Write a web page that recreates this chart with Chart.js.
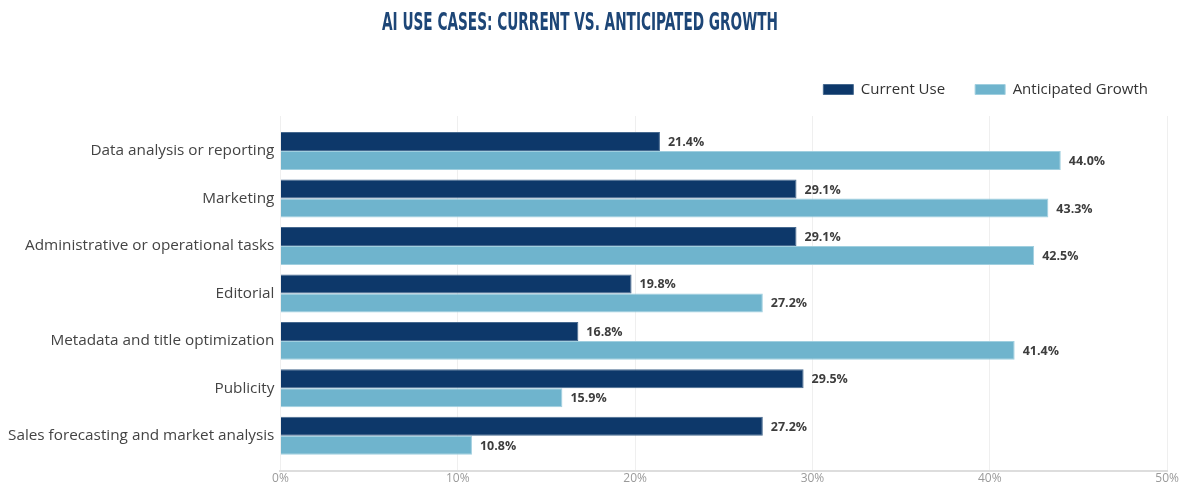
<!DOCTYPE html>
<html>
<head>
<meta charset="utf-8">
<script src="https://cdn.jsdelivr.net/npm/chart.js@4"></script>
<style>
  html, body { margin: 0; padding: 0; background: #fff; }
  #wrap { width: 1180px; height: 486px; position: relative; }
</style>
</head>
<body>
<div id="wrap"><canvas id="aiChart"></canvas></div>
<script>
// chart data
var categories = [
  'Data analysis or reporting',
  'Marketing',
  'Administrative or operational tasks',
  'Editorial',
  'Metadata and title optimization',
  'Publicity',
  'Sales forecasting and market analysis'
];
var currentUse = [21.4, 29.1, 29.1, 19.8, 16.8, 29.5, 27.2];
var anticipatedGrowth = [44.0, 43.3, 42.5, 27.2, 41.4, 15.9, 10.8];
var tickValues = [0, 10, 20, 30, 40, 50];
var chartTitle = 'AI USE CASES: CURRENT VS. ANTICIPATED GROWTH';

// title (condensed), value labels and a bit of extra room around the bars
var extras = {
  id: 'extras',
  beforeLayout: function(chart) {
    var lg = chart.legend;
    if (lg && !lg._extraPad) {
      var fit = lg.fit;
      lg.fit = function() {
        fit.call(this);
        this.height += 9;
      };
      lg._extraPad = true;
    }
  },
  afterLayout: function(chart) {
    // leave some empty space above the first and below the last category
    var y = chart.scales.y;
    y._startValue -= 0.237;
    y._valueRange += 0.474;
  },
  afterDraw: function(chart) {
    var ctx = chart.ctx;
    ctx.save();
    ctx.font = 'bold 25px "DejaVu Sans Condensed", "DejaVu Sans", sans-serif';
    ctx.fillStyle = '#1d4677';
    ctx.textAlign = 'center';
    ctx.textBaseline = 'alphabetic';
    ctx.fillText(chartTitle, 580, 30, 396);
    ctx.restore();
  },
  afterDatasetsDraw: function(chart) {
    var ctx = chart.ctx;
    ctx.save();
    ctx.font = 'bold 12.5px "Open Sans"';
    ctx.fillStyle = '#3d3d3d';
    ctx.textBaseline = 'middle';
    chart.data.datasets.forEach(function(ds, i) {
      chart.getDatasetMeta(i).data.forEach(function(bar, j) {
        ctx.fillText(ds.data[j].toFixed(1) + '%', bar.x + 8, bar.y + 1);
      });
    });
    ctx.restore();
  }
};

var ctx = document.getElementById('aiChart').getContext('2d');
new Chart(ctx, {
  type: 'bar',
  data: {
    labels: categories,
    datasets: [{
      label: 'Current Use',
      data: currentUse,
      backgroundColor: '#0d386a',
      borderColor: '#46698f',
      borderWidth: 1
    }, {
      label: 'Anticipated Growth',
      data: anticipatedGrowth,
      backgroundColor: '#6fb4cd',
      borderColor: '#a0cfdf',
      borderWidth: 1
    }]
  },
  options: {
    indexAxis: 'y',
    responsive: true,
    maintainAspectRatio: false,
    animation: false,
    categoryPercentage: 0.8,
    barPercentage: 1,
    layout: { padding: { left: 2, right: 2, top: 52, bottom: -5 } },
    plugins: {
      title: { display: false },
      legend: {
        position: 'top',
        align: 'end',
        labels: {
          boxWidth: 30,
          boxHeight: 10,
          padding: 30,
          color: '#333',
          font: { family: '"Open Sans"', size: 15 }
        }
      },
      tooltip: { enabled: false }
    },
    scales: {
      x: {
        min: 0,
        max: 50,
        afterBuildTicks: function(axis) {
          axis.ticks = tickValues.map(function(v) { return { value: v }; });
        },
        grid: { color: '#efefef', drawTicks: false },
        border: { color: '#dddddd', width: 2 },
        ticks: {
          padding: 1,
          color: '#9a9a9a',
          font: { family: '"Open Sans"', size: 12 },
          callback: function(v) { return v + '%'; }
        }
      },
      y: {
        grid: { display: false, drawTicks: false },
        border: { display: false },
        ticks: {
          padding: 6,
          color: '#444',
          font: { family: '"Open Sans"', size: 15.3 }
        }
      }
    }
  },
  plugins: [extras]
});
</script>
</body>
</html>
